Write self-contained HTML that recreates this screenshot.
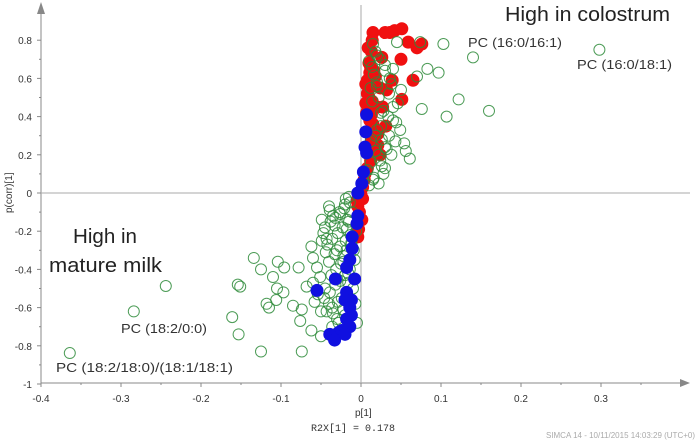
<!DOCTYPE html>
<html><head><meta charset="utf-8"><style>
html,body{margin:0;padding:0;background:#fff;width:697px;height:442px;overflow:hidden}
svg{display:block;font-family:"Liberation Sans",sans-serif}
</style></head><body>
<svg id="chart" width="697" height="442" viewBox="0 0 697 442" xmlns="http://www.w3.org/2000/svg">
<g id="axes"></g>
<g id="marks"></g>
<g id="labels">
<text x="505" y="21" font-size="20" textLength="165" lengthAdjust="spacingAndGlyphs" fill="#222">High in colostrum</text>
<text x="73" y="243" font-size="20" textLength="64" lengthAdjust="spacingAndGlyphs" fill="#222">High in</text>
<text x="49" y="272" font-size="20" textLength="113" lengthAdjust="spacingAndGlyphs" fill="#222">mature milk</text>
<text x="468" y="47" font-size="13" textLength="94" lengthAdjust="spacingAndGlyphs" fill="#333">PC (16:0/16:1)</text>
<text x="577" y="69" font-size="13" textLength="95" lengthAdjust="spacingAndGlyphs" fill="#333">PC (16:0/18:1)</text>
<text x="121" y="333" font-size="13" textLength="86" lengthAdjust="spacingAndGlyphs" fill="#333">PC (18:2/0:0)</text>
<text x="56" y="372" font-size="13" textLength="177" lengthAdjust="spacingAndGlyphs" fill="#333">PC (18:2/18:0)/(18:1/18:1)</text>
<text x="355" y="416" font-size="10" fill="#333">p[1]</text>
<text x="311" y="431" font-size="10" font-family="Liberation Mono,monospace" fill="#333">R2X[1] = 0.178</text>
<text transform="translate(12,213) rotate(-90)" font-size="10" fill="#333">p(corr)[1]</text>
<text x="695" y="438" font-size="8" fill="#aaa" text-anchor="end">SIMCA 14 - 10/11/2015 14:03:29 (UTC+0)</text>
</g>
</svg>
<script>
const xTicks=[-0.4,-0.3,-0.2,-0.1,0,0.1,0.2,0.3];
const yTicks=[0.8,0.6,0.4,0.2,0,-0.2,-0.4,-0.6,-0.8,-1];
const greenX=[-0.364,-0.284,-0.244,-0.154,-0.151,-0.161,-0.153,-0.125,-0.134,-0.125,-0.11,-0.104,-0.096,-0.105,-0.097,-0.106,-0.118,-0.115,-0.085,-0.074,-0.076,-0.074,-0.078,-0.062,-0.06,-0.049,-0.039,-0.019,-0.049,-0.062,-0.05,-0.068,-0.058,-0.05,-0.047,-0.043,-0.055,-0.051,-0.06,-0.054,-0.045,-0.04,-0.035,-0.03,-0.036,-0.028,-0.025,-0.03,-0.022,-0.033,-0.026,-0.02,-0.015,-0.018,-0.012,-0.022,-0.016,-0.03,-0.024,-0.04,-0.035,-0.044,-0.02,-0.01,-0.008,-0.015,
-0.045,-0.038,-0.032,-0.027,-0.021,-0.014,-0.042,-0.036,-0.029,-0.023,-0.017,-0.011,-0.04,-0.033,-0.026,-0.019,-0.013,-0.037,-0.031,-0.025,-0.018,-0.012,-0.046,-0.039,-0.032,-0.026,-0.02,-0.014,-0.043,-0.036,-0.029,-0.022,-0.016,-0.009,-0.006,-0.007,-0.005,
0.074,0.103,0.14,0.298,0.076,0.107,0.122,0.16,0.083,0.097,0.07,0.061,0.056,0.049,0.054,0.043,0.046,0.028,0.026,0.044,0.05,0.038,0.04,0.045,0.015,0.02,0.03,0.035,0.025,0.018,0.012,0.022,0.03,0.035,0.04,0.02,0.01,0.015,0.025,0.012,0.008,
0.018,0.024,0.03,0.036,0.016,0.022,0.028,0.034,0.04,0.014,0.02,0.026,0.032,0.038,0.012,0.018,0.024,0.03,0.016,0.022,0.01,0.014,0.02];
const greenY=[-0.838,-0.62,-0.487,-0.48,-0.49,-0.65,-0.74,-0.83,-0.34,-0.4,-0.44,-0.36,-0.39,-0.5,-0.52,-0.56,-0.58,-0.6,-0.59,-0.61,-0.67,-0.83,-0.39,-0.28,-0.34,-0.14,-0.09,-0.03,-0.25,-0.72,-0.75,-0.49,-0.57,-0.62,-0.21,-0.24,-0.39,-0.44,-0.47,-0.53,-0.5,-0.58,-0.63,-0.66,-0.7,-0.68,-0.73,-0.3,-0.33,-0.17,-0.11,-0.06,-0.02,-0.19,-0.26,-0.36,-0.42,-0.45,-0.55,-0.07,-0.12,-0.31,-0.64,-0.5,-0.35,-0.15,
-0.18,-0.15,-0.13,-0.1,-0.08,-0.05,-0.27,-0.24,-0.21,-0.18,-0.14,-0.1,-0.36,-0.32,-0.28,-0.25,-0.22,-0.43,-0.4,-0.37,-0.3,-0.27,-0.55,-0.52,-0.48,-0.46,-0.43,-0.4,-0.62,-0.6,-0.57,-0.61,-0.47,-0.3,-0.2,-0.58,-0.68,
0.79,0.78,0.71,0.75,0.44,0.40,0.49,0.43,0.65,0.63,0.61,0.18,0.22,0.33,0.26,0.27,0.47,0.10,0.14,0.37,0.54,0.57,0.65,0.79,0.78,0.72,0.67,0.52,0.42,0.3,0.16,0.2,0.24,0.3,0.45,0.58,0.69,0.07,0.35,0.55,0.12,
0.74,0.7,0.64,0.6,0.62,0.5,0.43,0.4,0.38,0.48,0.33,0.28,0.23,0.2,0.27,0.22,0.17,0.13,0.08,0.05,0.04,0.66,0.56];
const redX=[0.015,0.03,0.042,0.051,0.036,0.059,0.076,0.07,0.05,0.026,0.014,0.013,0.01,0.011,0.018,0.008,0.065,0.039,0.032,0.024,0.015,0.008,0.02,0.006,0.051,0.027,0.013,0.015,0.031,0.021,0.021,0.024,0.01,0.012,0.008,0.005,-0.005,-0.004,-0.004,0.002,
0.009,0.012,0.016,0.006,0.01,0.014,0.007,0.011,0.017,0.013,0.004,0.002,0.0,-0.002,0.001,-0.003];
const redY=[0.84,0.84,0.85,0.86,0.84,0.79,0.78,0.76,0.70,0.71,0.80,0.74,0.68,0.63,0.61,0.59,0.59,0.59,0.54,0.55,0.56,0.52,0.45,0.47,0.49,0.45,0.41,0.36,0.35,0.31,0.25,0.2,0.21,0.17,0.13,0.1,-0.04,-0.07,-0.23,-0.03,
0.76,0.66,0.64,0.57,0.5,0.48,0.42,0.38,0.33,0.28,0.07,0.03,-0.01,-0.1,-0.14,-0.19];
const blueX=[0.007,0.006,0.005,0.007,0.003,0.001,-0.004,-0.004,-0.005,-0.011,-0.011,-0.014,-0.018,-0.008,-0.032,-0.055,-0.018,-0.012,-0.02,-0.014,-0.012,-0.018,-0.014,-0.024,-0.028,-0.039,-0.033,-0.02];
const blueY=[0.41,0.32,0.24,0.21,0.11,0.05,0.0,-0.12,-0.16,-0.23,-0.29,-0.35,-0.39,-0.45,-0.45,-0.51,-0.52,-0.56,-0.56,-0.6,-0.64,-0.66,-0.7,-0.72,-0.73,-0.74,-0.77,-0.74];
const NS='http://www.w3.org/2000/svg';
const sx=v=>361+v*800, sy=v=>193-v*191;
function mk(tag,attrs,parent){const e=document.createElementNS(NS,tag);for(const k in attrs)e.setAttribute(k,attrs[k]);parent.appendChild(e);return e;}
const ax=document.getElementById('axes'), mg=document.getElementById('marks');
let e;
e=mk('line',{x1:41,y1:383,x2:680,y2:383,stroke:'#888','stroke-width':1},ax);


e=mk('polygon',{points:'680,379 690,383 680,387',fill:'#888'},ax);


e=mk('line',{x1:41,y1:383,x2:41,y2:12,stroke:'#888','stroke-width':1},ax);


e=mk('polygon',{points:'37,14 41,2 45,14',fill:'#888'},ax);


e=mk('line',{x1:41,y1:sy(0),x2:690,y2:sy(0),stroke:'#aaa','stroke-width':1},ax);


e=mk('line',{x1:sx(0),y1:5,x2:sx(0),y2:383,stroke:'#aaa','stroke-width':1},ax);


xTicks.forEach(v=>{
 const x=sx(v);
 e=mk('line',{x1:x,y1:383,x2:x,y2:387,stroke:'#888'},ax);
 
 
 e=mk('line',{x1:x+40,y1:383,x2:x+40,y2:385,stroke:'#888'},ax);
 
 
 e=mk('text',{x:x,y:402,'font-size':10,fill:'#333','text-anchor':'middle'},ax);
 e.textContent=String(v);
 
 
});
yTicks.forEach(v=>{
 const y=sy(v);
 e=mk('line',{x1:37,y1:y,x2:41,y2:y,stroke:'#888'},ax);
 
 
 if(v<0.8){e=mk('line',{x1:39,y1:y-19.1,x2:41,y2:y-19.1,stroke:'#888'},ax);
 
 }
 e=mk('text',{x:32,y:y+4,'font-size':10,fill:'#333','text-anchor':'end'},ax);
 e.textContent=String(v);
 
 
});
redX.forEach((v,i)=>{
 e=mk('circle',{cx:sx(v),cy:sy(redY[i]),r:6.5,fill:'#f01010'},mg);
 
 
});
greenX.forEach((v,i)=>{
 e=mk('circle',{cx:sx(v),cy:sy(greenY[i]),r:5.5,fill:'none',stroke:'#2e8b3a','stroke-width':1,'stroke-opacity':0.85},mg);
 
 
});
blueX.forEach((v,i)=>{
 e=mk('circle',{cx:sx(v),cy:sy(blueY[i]),r:6.5,fill:'#1010e0'},mg);
 
 
});
</script>
</body></html>
